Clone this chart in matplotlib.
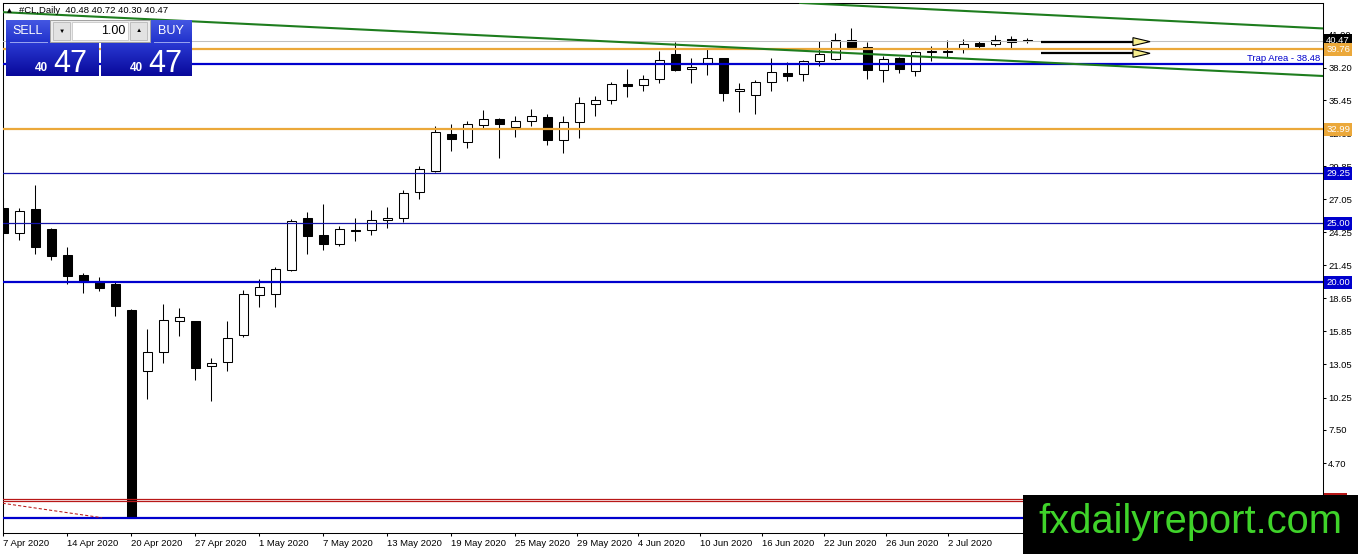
import matplotlib
matplotlib.use('Agg')
import matplotlib.pyplot as plt
import numpy as np
from matplotlib.patches import Rectangle, Polygon
from matplotlib.colors import LinearSegmentedColormap

plt.rcParams['font.family'] = ['Liberation Sans', 'DejaVu Sans']

# ---------------- data ----------------
symbol = '#CL,Daily'
last_ohlc = [40.48, 40.72, 40.30, 40.47]
bid_price = 40.47
lot_size = 1.00

opens = [26.34, 24.17, 26.23, 24.53, 22.33, 20.64, 20.13, 19.90, 17.67, 12.47,
         14.08, 16.71, 16.74, 12.90, 13.24, 15.52, 18.92, 19.00, 21.09, 25.47,
         24.00, 23.24, 24.45, 24.42, 25.27, 25.44, 27.64, 29.48, 32.58, 31.88,
         33.37, 33.86, 33.20, 33.66, 34.03, 32.05, 33.58, 35.10, 35.49, 36.82,
         36.71, 37.22, 39.36, 38.12, 38.54, 39.00, 36.20, 35.86, 36.99, 37.75,
         37.64, 38.75, 38.92, 40.53, 39.93, 37.98, 39.00, 37.90, 39.57, 39.56,
         39.76, 40.30, 40.24, 40.61, 40.48]
highs = [27.14, 26.30, 28.26, 24.60, 22.98, 20.78, 20.44, 20.13, 17.75, 16.03,
         18.18, 17.84, 16.76, 13.58, 16.74, 19.36, 20.32, 21.31, 25.38, 25.97,
         26.65, 24.81, 25.47, 26.14, 26.40, 27.84, 29.87, 33.24, 33.43, 33.69,
         34.62, 33.90, 34.11, 34.70, 34.28, 34.11, 35.72, 35.81, 36.99, 38.09,
         37.58, 39.62, 40.36, 39.00, 39.85, 39.05, 36.88, 37.14, 39.00, 38.66,
         38.83, 40.44, 41.12, 41.54, 40.36, 39.20, 39.14, 39.62, 40.04, 40.55,
         40.64, 40.47, 40.97, 40.89, 40.72]
lows = [23.46, 23.60, 22.44, 21.93, 19.85, 19.08, 19.31, 17.19, 0.00, 10.15,
        13.20, 15.49, 11.76, 9.93, 12.50, 15.41, 17.95, 17.95, 21.00, 22.44,
        22.78, 23.12, 23.54, 24.05, 24.64, 25.10, 27.10, 29.39, 31.17, 31.42,
        33.12, 30.58, 32.36, 33.29, 31.68, 31.00, 32.27, 34.11, 35.15, 35.72,
        36.23, 36.93, 37.90, 36.93, 37.58, 35.36, 34.42, 34.25, 36.25, 37.05,
        37.05, 38.32, 38.83, 39.85, 37.22, 36.97, 37.73, 37.47, 38.75, 39.14,
        39.42, 39.76, 40.02, 39.81, 40.30]
closes = [24.17, 26.03, 23.03, 22.27, 20.58, 20.04, 19.56, 17.98, 0.02, 14.08,
          16.80, 17.08, 12.78, 13.18, 15.27, 19.03, 19.62, 21.14, 25.19, 23.97,
          23.29, 24.51, 24.35, 25.27, 25.47, 27.56, 29.59, 32.73, 32.19, 33.41,
          33.86, 33.46, 33.66, 34.08, 32.10, 33.60, 35.21, 35.47, 36.82, 36.63,
          37.25, 38.86, 38.03, 38.29, 39.00, 36.03, 36.37, 36.97, 37.81, 37.53,
          38.75, 39.34, 40.53, 39.93, 37.98, 38.94, 38.07, 39.51, 39.60, 39.59,
          40.21, 40.02, 40.55, 40.36, 40.47]

date_labels = ['7 Apr 2020', '14 Apr 2020', '20 Apr 2020', '27 Apr 2020', '1 May 2020',
               '7 May 2020', '13 May 2020', '19 May 2020', '25 May 2020', '29 May 2020',
               '4 Jun 2020', '10 Jun 2020', '16 Jun 2020', '22 Jun 2020', '26 Jun 2020',
               '2 Jul 2020']
date_label_bars = [0, 4, 8, 12, 16, 20, 24, 28, 32, 35.86, 39.67, 43.54, 47.42, 51.29,
                   55.17, 59.04]

price_ticks = [41.00, 38.20, 35.45, 32.65, 29.85, 27.05, 24.25, 21.45, 18.65, 15.85,
               13.05, 10.25, 7.50, 4.70]

orange_levels = [39.76, 32.99]
blue_thick_levels = [38.48, 20.00, 0.00]
blue_thin_levels = [29.25, 25.00]
red_levels = [1.63, 1.46]
trap_level = 38.48
trap_text = 'Trap Area - 38.48'

# trend channel (bar index, price) pairs
lower_channel = [(-0.21, 42.92), (82.46, 37.50)]
upper_channel = [(49.8, 43.69), (82.46, 41.53)]
red_dashed = [(-0.04, 1.29), (6.15, 0.07)]
arrow_levels = [40.41, 39.42]
arrow_bars = [64.86, 70.6, 71.67]   # start, head base, tip

# ---------------- colours ----------------
ORANGE = '#EBA83A'
BLUE = '#0000CD'
BLUE_THIN = '#1414A8'
RED = '#B81818'
GREEN = '#1E7D1E'

W, H = 1362, 554
fig = plt.figure(figsize=(W / 100, H / 100), dpi=100)
fig.patch.set_facecolor('white')

ax_l, ax_r, ax_t, ax_b = 2.7, 1322.7, 2.7, 533.0
ax = fig.add_axes([ax_l / W, 1 - ax_b / H, (ax_r - ax_l) / W, (ax_b - ax_t) / H])
ax.set_facecolor('white')

x = np.arange(len(opens))
o = np.array(opens); h = np.array(highs); l = np.array(lows); c = np.array(closes)
bull = c >= o

ax.vlines(x, l, h, color='black', linewidth=0.75, zorder=2)
body_bottom = np.minimum(o, c)
body_h = np.maximum(np.abs(c - o), 0.06)
ax.bar(x, body_h, bottom=body_bottom, width=0.6,
       color=np.where(bull, 'white', 'black'), edgecolor='black', linewidth=0.75, zorder=3)

# horizontal levels
ax.axhline(bid_price, color='#C0C0C0', linewidth=0.75, zorder=4)
for lv in orange_levels:
    ax.axhline(lv, color=ORANGE, linewidth=1.6, zorder=4)
for lv in blue_thick_levels:
    ax.axhline(lv, color=BLUE, linewidth=1.6, zorder=4)
for lv in blue_thin_levels:
    ax.axhline(lv, color=BLUE_THIN, linewidth=0.9, zorder=4)
for lv in red_levels:
    ax.axhline(lv, color=RED, linewidth=0.9, zorder=4)

# channel lines
for seg in (lower_channel, upper_channel):
    (x0, y0), (x1, y1) = seg
    ax.plot([x0, x1], [y0, y1], color=GREEN, linewidth=1.5, zorder=5)
(x0, y0), (x1, y1) = red_dashed
ax.plot([x0, x1], [y0, y1], color=RED, linewidth=0.75, linestyle=(0, (3, 2)), zorder=5)

# arrows
hh = 4 / 11.8
for lv in arrow_levels:
    ax.plot([arrow_bars[0], arrow_bars[1]], [lv, lv], color='black', linewidth=1.6,
            zorder=6, solid_capstyle='butt')
    ax.add_patch(Polygon([(arrow_bars[1], lv - hh), (arrow_bars[1], lv + hh),
                          (arrow_bars[2], lv)], closed=True, facecolor='#F6EE8E',
                         edgecolor='black', linewidth=0.8, zorder=7))

ax.text(82.3, trap_level + 0.12, trap_text, color=BLUE, fontsize=6.8,
        ha='right', va='bottom', zorder=8)

ax.set_xlim(-0.0375, 82.46)
ax.set_ylim(-1.23, 43.71)

for sp in ax.spines.values():
    sp.set_linewidth(0.75)
    sp.set_color('black')

ax.yaxis.tick_right()
ax.set_yticks(price_ticks)
ax.set_yticklabels([f'{v:.2f}' for v in price_ticks])
ax.set_xticks(date_label_bars)
ax.set_xticklabels(date_labels, ha='left')
ax.tick_params(axis='y', direction='out', length=2.5, width=0.75, labelsize=6.8, pad=1.5)
ax.tick_params(axis='x', direction='out', length=2.5, width=0.75, labelsize=6.8, pad=2)

# price label boxes on the right scale
box_levels = [(bid_price, 'black'), (orange_levels[0], ORANGE), (orange_levels[1], ORANGE),
              (blue_thin_levels[0], BLUE), (blue_thin_levels[1], BLUE),
              (blue_thick_levels[1], BLUE), (red_levels[0], RED)]
for lv, col in box_levels:
    ax.annotate(f'{lv:.2f}', xy=(1, lv), xycoords=('axes fraction', 'data'),
                xytext=(3.5, 0), textcoords='offset pixels', ha='left', va='center',
                fontsize=6.8, color='white', annotation_clip=False, zorder=20,
                bbox=dict(boxstyle='square,pad=0.22', fc=col, ec='none'))

# ---------------- overlay (pixel coordinates) ----------------
ov = fig.add_axes([0, 0, 1, 1], zorder=5)
ov.set_xlim(0, W)
ov.set_ylim(H, 0)
ov.axis('off')


def grad_box(x0, y0, x1, y1, c_top, c_bot):
    cmap = LinearSegmentedColormap.from_list('g', [c_top, c_bot])
    g = np.linspace(0, 1, 64).reshape(-1, 1)
    ov.imshow(g, extent=[x0, x1, y1, y0], cmap=cmap, aspect='auto', origin='upper',
              interpolation='bilinear', zorder=1)


grad_box(6, 20, 50, 42, '#4457E2', '#2233CC')
grad_box(6, 42.5, 99, 76, '#2A3AD4', '#08089A')
grad_box(150, 20, 192, 42, '#4457E2', '#2233CC')
grad_box(101, 42.5, 192, 76, '#2A3AD4', '#08089A')
ov.plot([10, 47], [42.3, 42.3], color='#9AA6F0', linewidth=0.7, zorder=2)
ov.plot([154, 189], [42.3, 42.3], color='#9AA6F0', linewidth=0.7, zorder=2)

# lot box
ov.add_patch(Rectangle((50, 20), 100, 21.5, facecolor='#ECECEC', edgecolor='#A0A0A0',
                       linewidth=0.7, zorder=2))
ov.add_patch(Rectangle((53, 22), 17, 18, facecolor='#E2E2E2', edgecolor='#B8B8B8',
                       linewidth=0.6, zorder=3))
ov.add_patch(Rectangle((72, 22), 56, 18, facecolor='white', edgecolor='#C8C8C8',
                       linewidth=0.6, zorder=3))
ov.add_patch(Rectangle((130, 22), 17, 18, facecolor='#E2E2E2', edgecolor='#B8B8B8',
                       linewidth=0.6, zorder=3))
ov.text(61.5, 31.5, '▼', fontsize=4.5, ha='center', va='center', color='black', zorder=4)
ov.text(138.5, 31, '▲', fontsize=4.5, ha='center', va='center', color='black', zorder=4)
ov.text(125, 31, f'{lot_size:.2f}', fontsize=9, ha='right', va='center', color='black', zorder=4)

ov.set_xlim(0, W)
ov.set_ylim(H, 0)

ov.text(27.5, 31, 'SELL', fontsize=9, ha='center', va='center', color='white', zorder=4)
ov.text(171, 31, 'BUY', fontsize=9, ha='center', va='center', color='white', zorder=4)

big = f'{bid_price:.2f}'
big_hi, big_lo = big[-2:], big[:2]
for xs, xb in ((41.5, 70), (136.5, 165)):
    ov.text(xs, 70.8, big_lo, fontsize=8.5, fontweight='bold', ha='center', va='baseline',
            color='white', zorder=4)
    ov.text(xb, 71.8, big_hi, fontsize=22, ha='center', va='baseline', color='white', zorder=4,
            family=['Liberation Sans Narrow', 'Liberation Sans'])

# header
ov.text(7, 10.5, '▲', fontsize=4.5, ha='left', va='center', color='black', zorder=4,
        family=['DejaVu Sans'])
ov.text(19, 10.5, f'{symbol}  ' + ' '.join(f'{v:.2f}' for v in last_ohlc), fontsize=6.8,
        ha='left', va='center', color='black', zorder=4)

# watermark
ov.add_patch(Rectangle((1022.7, 495), 1358 - 1022.7, 60, facecolor='black',
                       edgecolor='none', zorder=10))
ov.text(1038, 533, 'fxdailyreport.com', fontsize=28.7, color='#3FD32A', ha='left',
        va='baseline', zorder=11)

fig.savefig('out.png', dpi=100)
